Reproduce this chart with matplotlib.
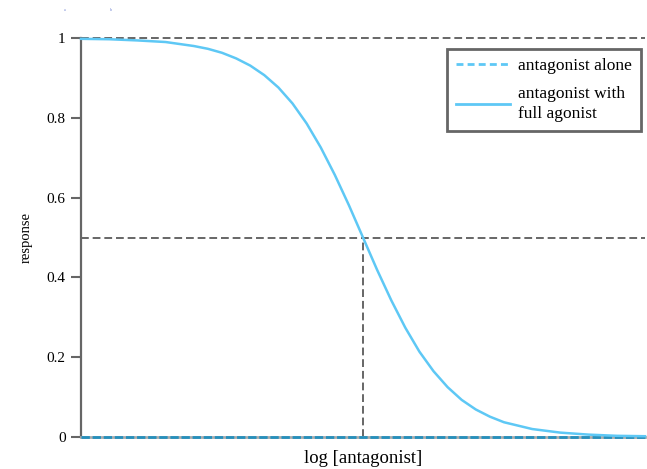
import matplotlib.pyplot as plt
from matplotlib.lines import Line2D

plt.rcParams['font.family'] = ['Liberation Serif', 'DejaVu Serif']

# log [antagonist] (arbitrary units) and response
log_conc = [0.0, 0.5, 1.0, 1.5, 2.0, 2.25, 2.5, 2.75, 3.0, 3.25, 3.5, 3.75, 4.0, 4.25, 4.5, 4.75, 5.0,
            5.25, 5.5, 5.75, 6.0, 6.25, 6.5, 6.75, 7.0, 7.25, 7.5, 8.0, 8.5, 9.0, 9.5, 10.0]
resp_with_agonist = [0.998, 0.997, 0.994, 0.990, 0.980, 0.973, 0.963, 0.949, 0.931, 0.907, 0.876,
                     0.836, 0.786, 0.726, 0.657, 0.581, 0.500, 0.419, 0.343, 0.274, 0.214, 0.165,
                     0.125, 0.093, 0.069, 0.051, 0.037, 0.020, 0.011, 0.006, 0.003, 0.002]
resp_alone = [0.0] * len(log_conc)

ic50 = 5.0
y_ticks = [0, 0.2, 0.4, 0.6, 0.8, 1]
y_tick_labels = ['0', '0.2', '0.4', '0.6', '0.8', '1']

light_blue = '#5ec8f5'
dark_blue = '#2590bd'
grey = '#666666'

fig = plt.figure(figsize=(6.47, 4.69), dpi=100)
ax = fig.add_axes([0.1252, 0.0682, 0.8717, 0.8507])

# reference lines
ax.axhline(1, color=grey, lw=1.4, ls=(0, (4, 2)), clip_on=False, zorder=1)
ax.axhline(0.5, color=grey, lw=1.4, ls=(0, (4, 2)), zorder=1)
ax.plot([ic50, ic50], [0, 0.5], color=grey, lw=1.4, ls=(0, (4, 2)), zorder=1)

ax.plot(log_conc, resp_alone, color=dark_blue, lw=2, ls=(0, (3, 1)), clip_on=False, zorder=3)
ax.plot(log_conc, resp_with_agonist, color=light_blue, lw=1.8, clip_on=False, zorder=4)

ax.set_xlim(0, 10)
ax.set_ylim(0, 1)
ax.set_yticks(y_ticks)
ax.set_yticklabels(y_tick_labels)
ax.set_xticks([])
ax.tick_params(axis='y', length=7, width=1.5, color=grey, labelsize=11, pad=4)

for s in ['top', 'right']:
    ax.spines[s].set_visible(False)
ax.spines['left'].set_color(grey)
ax.spines['left'].set_linewidth(1.6)
ax.spines['bottom'].set_color('#aaaaaa')
ax.spines['bottom'].set_linewidth(2)

ax.set_xlabel('log [antagonist]', fontsize=13.5, labelpad=9)
ax.set_ylabel('response', fontsize=10.5, labelpad=10)

handles = [Line2D([], [], color=light_blue, lw=2, ls=(0, (2.5, 1.5))),
           Line2D([], [], color=light_blue, lw=2)]
leg = ax.legend(handles, ['antagonist alone', 'antagonist with\nfull agonist'],
                loc='upper right', bbox_to_anchor=(0.993, 0.972), borderaxespad=0,
                fontsize=12.5, fancybox=False, framealpha=1, edgecolor=grey,
                handlelength=3.1, handletextpad=0.5, borderpad=0.5, labelspacing=0.7)
leg.get_frame().set_linewidth(2)
leg.get_texts()[1].set_linespacing(1.35)

fig.text(0.1, 0.978, 'a', fontsize=3, color='#6a7fd0', ha='center', va='center')
fig.text(0.17, 0.978, 'b', fontsize=3, color='#6a7fd0', ha='center', va='center')

fig.savefig('out.png', dpi=100)
